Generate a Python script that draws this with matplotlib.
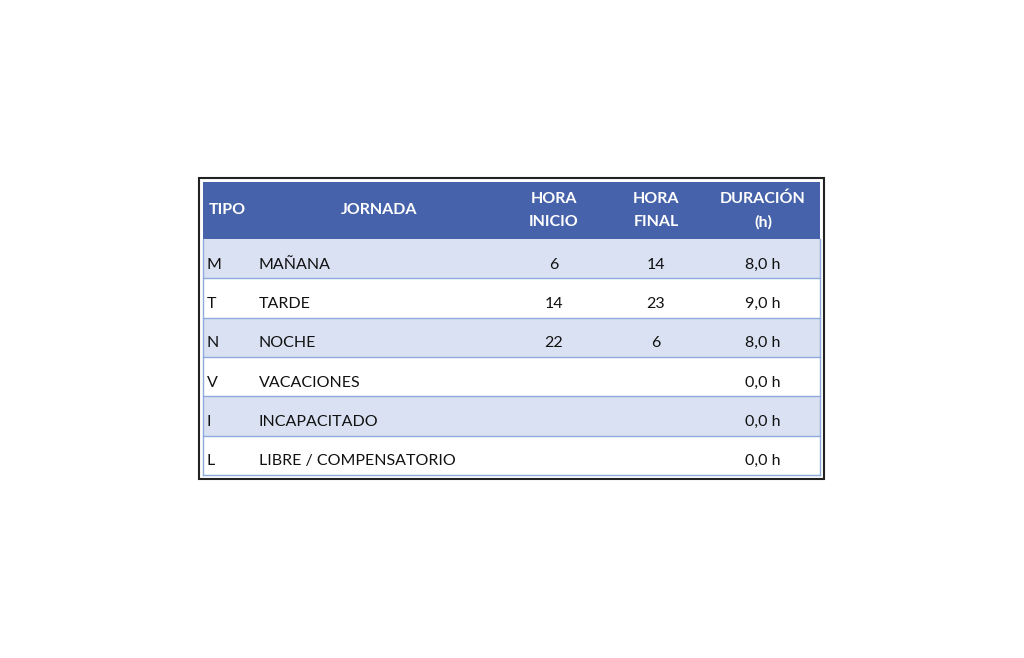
import matplotlib.pyplot as plt
from matplotlib.patches import Rectangle

tipos = ['M', 'T', 'N', 'V', 'I', 'L']
jornadas = ['MAÑANA', 'TARDE', 'NOCHE', 'VACACIONES', 'INCAPACITADO', 'LIBRE / COMPENSATORIO']
hora_inicio = ['6', '14', '22', '', '', '']
hora_final = ['14', '23', '6', '', '', '']
duracion = ['8,0 h', '9,0 h', '8,0 h', '0,0 h', '0,0 h', '0,0 h']

W, H = 1024, 658
fig = plt.figure(figsize=(W / 100, H / 100), dpi=100)
ax = fig.add_axes([0, 0, 1, 1])
ax.set_xlim(0, W)
ax.set_ylim(H, 0)
ax.axis('off')
plt.rcParams['font.family'] = ['Lato', 'DejaVu Sans']

blue = '#4662AA'
light = '#D9E1F2'
line = '#8EA9DB'
x0, x1 = 203, 820
fs = 11.5

# outer border
ax.add_patch(Rectangle((199, 178), 625, 301, fill=False, ec='#222222', lw=1.5))
# header
ax.add_patch(Rectangle((x0, 182), x1 - x0, 57, fc=blue, ec='none'))
hy = 210.5
ax.text(209, hy, 'TIPO', color='white', fontsize=fs, fontweight='bold', va='center')
ax.text(379, hy, 'JORNADA', color='white', fontsize=fs, fontweight='bold', va='center', ha='center')
for cx, lbl in [(554, 'HORA\nINICIO'), (656, 'HORA\nFINAL'), (763, 'DURACIÓN\n(h)')]:
    ax.text(cx, hy, lbl, color='white', fontsize=fs, fontweight='bold', va='center',
            ha='center', linespacing=1.75)

row_h = 39.3
y = 239
for i in range(len(tipos)):
    fc = light if i % 2 == 0 else 'white'
    ax.add_patch(Rectangle((x0, y), x1 - x0, row_h, fc=fc, ec='none'))
    ax.plot([x0, x1], [y + row_h, y + row_h], color=line, lw=1)
    cy = y + row_h / 2 + 6
    ax.text(207, cy, tipos[i], fontsize=fs, va='center', color='#111111')
    ax.text(259, cy, jornadas[i], fontsize=fs, va='center', color='#111111')
    ax.text(554, cy, hora_inicio[i], fontsize=fs, va='center', ha='center', color='#111111')
    ax.text(656, cy, hora_final[i], fontsize=fs, va='center', ha='center', color='#111111')
    ax.text(763, cy, duracion[i], fontsize=fs, va='center', ha='center', color='#111111')
    y += row_h
ax.plot([x0, x0], [239, y], color=line, lw=1)
ax.plot([x1, x1], [239, y], color=line, lw=1)

fig.savefig('out.png', dpi=100)
